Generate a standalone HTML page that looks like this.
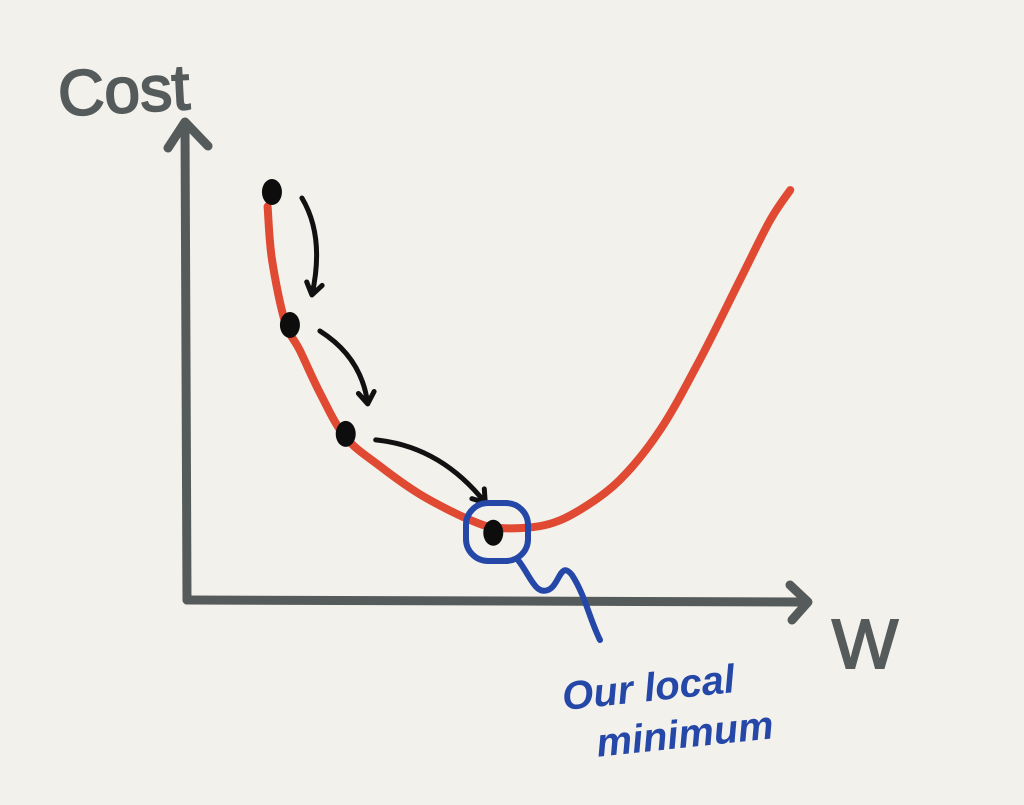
<!DOCTYPE html>
<html><head><meta charset="utf-8">
<style>
html,body{margin:0;padding:0;background:#f3f1ec;}
svg{display:block}
</style></head>
<body>
<svg id="chart" width="1024" height="805" viewBox="0 0 1024 805" xmlns="http://www.w3.org/2000/svg">
<rect x="0" y="0" width="1024" height="805" fill="#f3f1ec"/>
<g stroke="#555b5b" stroke-width="9" stroke-linecap="round" stroke-linejoin="round" fill="none">
<path d="M187 600 L185 125"/><path d="M168 148 L185 122 L208 146"/>
</g>
<g stroke="#555b5b" stroke-width="9" stroke-linecap="round" stroke-linejoin="round" fill="none">
<path d="M187 600 L805 602"/><path d="M790 585 L808 602 L792 620"/>
</g>
<text x="58" y="113" font-family="Liberation Sans, sans-serif" font-size="64" fill="#555b5b" stroke="#555b5b" stroke-width="2" transform="rotate(-3 110 90)">Cost</text>
<text x="832" y="668" font-family="Liberation Sans, sans-serif" font-size="70" fill="#555b5b" stroke="#555b5b" stroke-width="2">W</text>
<g id="plot"></g>
<g fill="none" stroke="#2447a8" stroke-width="6" stroke-linecap="round">
<rect x="466" y="503" width="62" height="58" rx="22"/>
<path d="M518 560 C530 575 535 595 548 590 C560 585 560 560 572 575 C585 595 590 620 600 640"/>
</g>
<text x="562" y="702" font-family="Liberation Sans, sans-serif" font-style="italic" font-weight="bold" font-size="40" fill="#2447a8" transform="rotate(-6 640 690)">Our local</text>
<text x="596" y="748" font-family="Liberation Sans, sans-serif" font-style="italic" font-weight="bold" font-size="40" fill="#2447a8" transform="rotate(-6 680 735)">minimum</text>
</svg>
<script>
const curveW=[13,13.7,15.8,18.2,21.5,25.5,31,37.6,45.6,50.5,57.7,63.4,69.8,76.3,82.7,89.2,94,97.3];
const curveCost=[82,71,58,52,43,34,28,22,16.7,15,15.6,18.8,25,35.4,50,66.7,79,85.4];
const stepW=[13.7,16.6,25.6,49.4];
const stepCost=[85,57.3,34.6,14];
const sx=v=>187+v*6.2;
const sy=v=>600-v*4.8;
const NS="http://www.w3.org/2000/svg";
const plot=document.getElementById('plot');
function smooth(pts){
  let d=`M${pts[0][0]} ${pts[0][1]}`;
  for(let i=0;i<pts.length-1;i++){
    const p0=pts[i-1]||pts[i],p1=pts[i],p2=pts[i+1],p3=pts[i+2]||p2;
    d+=` C${p1[0]+(p2[0]-p0[0])/6} ${p1[1]+(p2[1]-p0[1])/6} ${p2[0]-(p3[0]-p1[0])/6} ${p2[1]-(p3[1]-p1[1])/6} ${p2[0]} ${p2[1]}`;
  }
  return d;
}
const pts=curveW.map((w,i)=>[sx(w),sy(curveCost[i])]);
const curve=document.createElementNS(NS,'path');


curve.setAttribute('d',smooth(pts));
curve.setAttribute('fill','none');curve.setAttribute('stroke','#e04a33');
curve.setAttribute('stroke-width','8');curve.setAttribute('stroke-linecap','round');
plot.appendChild(curve);
for(let i=0;i<stepW.length-1;i++){
  const x1=sx(stepW[i])+30,y1=sy(stepCost[i])+6,x2=sx(stepW[i+1])-8+(i==2?0:30),y2=sy(stepCost[i+1])-30;
  const cx=(x1+x2)/2+(i==2?10:18),cy=(y1+y2)/2-(i==2?25:10);
  const a=document.createElementNS(NS,'path');
  
  
  const ang=Math.atan2(y2-cy,x2-cx);
  const h=14;
  const hx1=x2-h*Math.cos(ang-0.6),hy1=y2-h*Math.sin(ang-0.6);
  const hx2=x2-h*Math.cos(ang+0.6),hy2=y2-h*Math.sin(ang+0.6);
  a.setAttribute('d',`M${x1} ${y1} Q${cx} ${cy} ${x2} ${y2} M${hx1} ${hy1} L${x2} ${y2} L${hx2} ${hy2}`);
  a.setAttribute('fill','none');a.setAttribute('stroke','#111');
  a.setAttribute('stroke-width','5');a.setAttribute('stroke-linecap','round');a.setAttribute('stroke-linejoin','round');
  plot.appendChild(a);
}
stepW.forEach((w,i)=>{
  const c=document.createElementNS(NS,'ellipse');
  
  
  c.setAttribute('cx',sx(w));c.setAttribute('cy',sy(stepCost[i]));
  c.setAttribute('rx','10');c.setAttribute('ry','13');c.setAttribute('fill','#0d0d0d');
  plot.appendChild(c);
});
</script>
</body></html>
